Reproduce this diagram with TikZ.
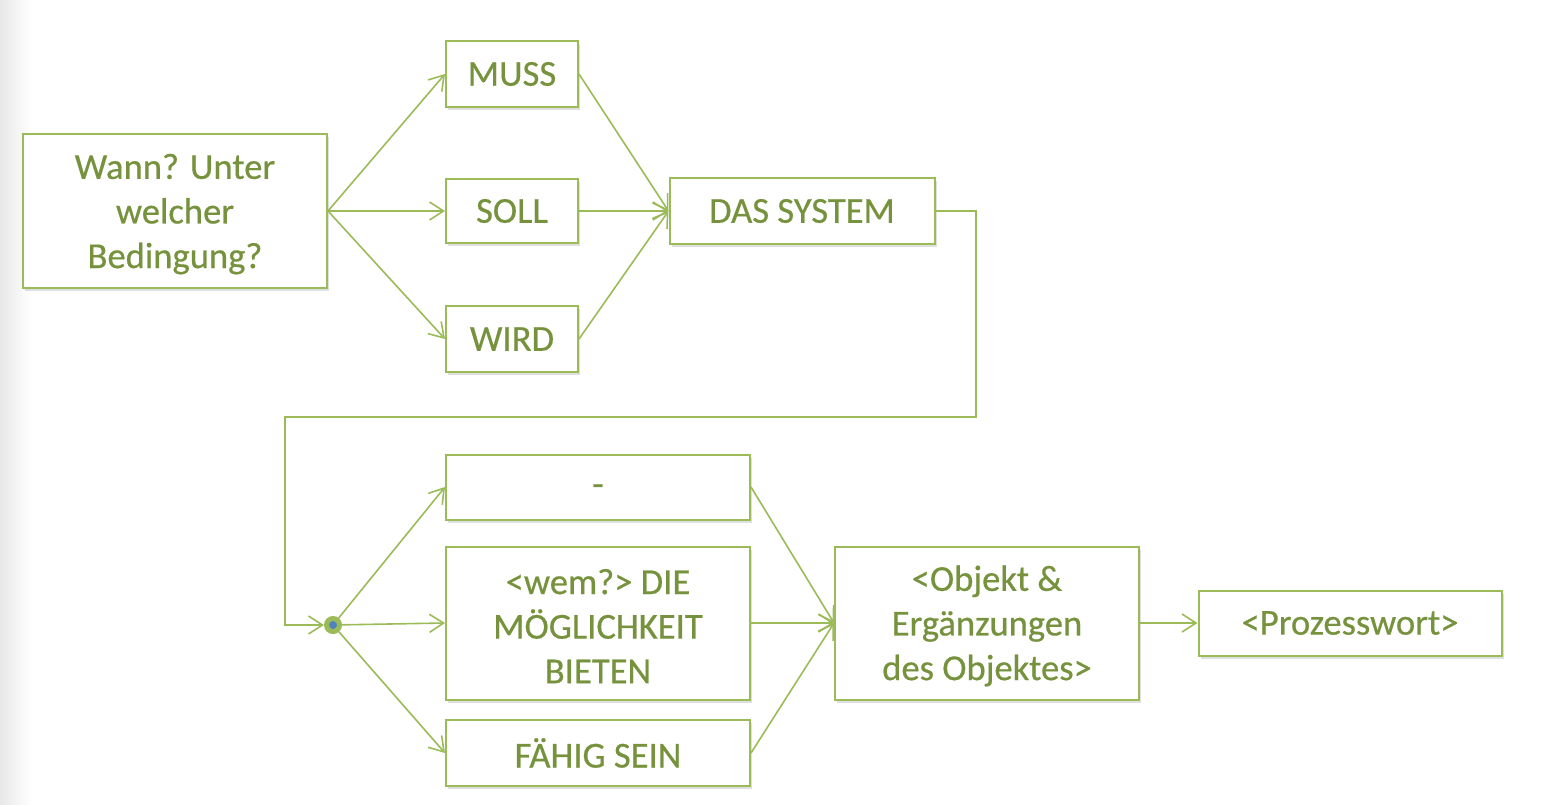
\documentclass[tikz,border=0pt]{standalone}
\usepackage{fontspec}
\setmainfont{Carlito}
\newfontfamily\boxfont{Carlito}[FakeBold=0.5]
\usetikzlibrary{arrows.meta}
\usetikzlibrary{shadows}

\definecolor{textgreen}{HTML}{76923C}
\definecolor{linegreen}{HTML}{9BBB59}
\definecolor{dotblue}{HTML}{4F81BD}

\tikzset{
  box/.style={draw=linegreen,line width=1pt,fill=white,text=textgreen,align=center,
    inner sep=2pt,font=\boxfont\fontsize{18.3}{22.3}\selectfont,
    drop shadow={shadow xshift=1pt,shadow yshift=-1.5pt,opacity=0.25}},
  link/.style={draw=linegreen,line width=0.8pt,-{Straight Barb[length=7pt,width=9pt]}},
  junction/.style={circle,fill=dotblue,draw=linegreen,line width=2.5pt,minimum size=6.5pt,inner sep=0pt}
}

\begin{document}
\begin{tikzpicture}[x=0.5pt,y=-0.5pt]
    \useasboundingbox (0,0) rectangle (1558,804);
    \shade[left color=black!9,right color=white] (0,0) rectangle (32,804);

    \node[box,minimum width=152pt,minimum height=77pt] (when) at (175,211) {\strut Wann? Unter\\welcher\\Bedingung?};
    \node[box,minimum width=66pt,minimum height=33pt] (muss) at (512,74) {MUSS};
    \node[box,minimum width=66pt,minimum height=32pt] (soll) at (512,211) {SOLL};
    \node[box,minimum width=66pt,minimum height=33pt] (wird) at (512,339) {WIRD};
    \node[box,minimum width=132.5pt,minimum height=33pt] (system) at (802,211) {DAS SYSTEM};

    \node[junction] (dot) at (333,625) {};
    \node[box,minimum width=152pt,minimum height=32.5pt] (none) at (598,487) {\strut-};
    \node[box,minimum width=152pt,minimum height=76.5pt] (option) at (598,623) {\strut<wem?> DIE\\MÖGLICHKEIT\\BIETEN};
    \node[box,minimum width=152pt,minimum height=33pt] (able) at (598,753) {FÄHIG SEIN};
    \node[box,minimum width=152pt,minimum height=76.5pt] (object) at (987,623) {\strut<Objekt \&\\Ergänzungen\\des Objektes>};
    \node[box,minimum width=151.5pt,minimum height=32.5pt] (process) at (1350,623) {<Prozesswort>};

    % condition to modal verbs
    \foreach \v in {muss,soll,wird} {
      \draw[link] (when.east) -- (\v.west);
      \draw[link] (\v.east) -- (system.west);
    }
    % back down to second row
    \draw[link] (system.east) -- (976,211) -- (976,417) -- (285,417) |- (dot.west);
    \foreach \v in {none,option,able} {
      \draw[link] (dot) -- (\v.west);
      \draw[link] (\v.east) -- (object.west);
    }
    \draw[link] (object.east) -- (process.west);
\end{tikzpicture}
\end{document}
